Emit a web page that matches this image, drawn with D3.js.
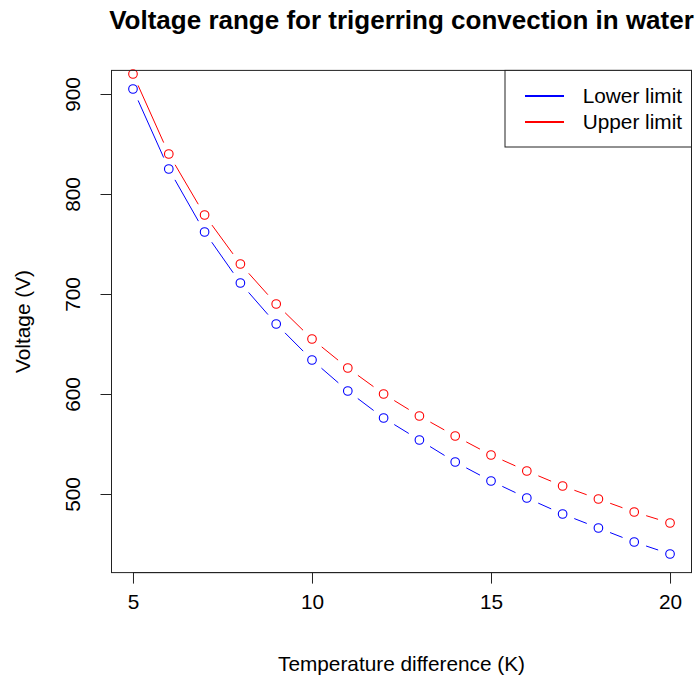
<!DOCTYPE html>
<html>
<head>
<meta charset="utf-8">
<script src="https://cdn.jsdelivr.net/npm/d3@7"></script>
<style>
  html, body { margin: 0; padding: 0; background: #fff; }
  svg { display: block; }
  text { font-family: "Liberation Sans", Arial, sans-serif; fill: #000; }
</style>
</head>
<body>
<svg id="chart" width="695" height="679"></svg>
<script>
const tempDiff = [5, 6, 7, 8, 9, 10, 11, 12, 13, 14, 15, 16, 17, 18, 19, 20];
const lowerLimit = [905, 825, 762, 711, 670, 634, 603, 576, 554, 532, 513, 496, 480, 466, 452, 440];
const upperLimit = [920, 840, 779, 730, 690, 655, 626, 600, 578, 558, 539, 523, 508, 495, 482, 471];
const xTicks = [5, 10, 15, 20];
const yTicks = [500, 600, 700, 800, 900];
const seriesNames = ["Lower limit", "Upper limit"];
const seriesColors = ["blue", "red"];
const titleText = "Voltage range for trigerring convection in water";
const xLabel = "Temperature difference (K)";
const yLabel = "Voltage (V)";

const svg = d3.select("#chart");
const plot = { left: 111.5, right: 691.5, top: 70.4, bottom: 572.6 };

// R-style 4% axis extension; y limits from lower series
const xr = d3.extent(tempDiff), xpad = (xr[1] - xr[0]) * 0.04;
const yr = d3.extent(lowerLimit), ypad = (yr[1] - yr[0]) * 0.04;
const x = d3.scaleLinear().domain([xr[0] - xpad, xr[1] + xpad]).range([plot.left, plot.right]);
const y = d3.scaleLinear().domain([yr[0] - ypad, yr[1] + ypad]).range([plot.bottom, plot.top]);

const fs = 20.8;

// clip
svg.append("defs").append("clipPath").attr("id", "clip")
  .append("rect").attr("x", plot.left).attr("y", plot.top)
  .attr("width", plot.right - plot.left).attr("height", plot.bottom - plot.top);

// series
const series = [lowerLimit, upperLimit];
const gap = 12.5;
series.forEach((vals, si) => {
  const pts = tempDiff.map((t, i) => [x(t), y(vals[i])]);
  const g = svg.append("g").attr("clip-path", "url(#clip)");
  for (let i = 0; i < pts.length - 1; i++) {
    const [x0, y0] = pts[i], [x1, y1] = pts[i + 1];
    const dx = x1 - x0, dy = y1 - y0, len = Math.hypot(dx, dy);
    if (len <= 2 * gap) continue;
    const ux = dx / len, uy = dy / len;
    g.append("line")
      .attr("x1", x0 + ux * gap).attr("y1", y0 + uy * gap)
      .attr("x2", x1 - ux * gap).attr("y2", y1 - uy * gap)
      .attr("stroke", seriesColors[si]).attr("stroke-width", 1);
  }
  svg.append("g").selectAll("circle").data(pts).join("circle")
    .attr("cx", d => d[0]).attr("cy", d => d[1]).attr("r", 4.3)
    .attr("fill", "none").attr("stroke", seriesColors[si]).attr("stroke-width", 1.1);
});

// box
svg.append("rect").attr("x", plot.left).attr("y", plot.top)
  .attr("width", plot.right - plot.left).attr("height", plot.bottom - plot.top)
  .attr("fill", "none").attr("stroke", "#222").attr("stroke-width", 1);

// x axis
const xAxis = d3.axisBottom(x).tickValues(xTicks).tickSize(11).tickPadding(11).tickFormat(d3.format("d"));
const gx = svg.append("g").attr("transform", `translate(0,${plot.bottom})`).call(xAxis);
gx.select(".domain").attr("d", `M${x(xTicks[0])},0H${x(xTicks[xTicks.length-1])}`).attr("stroke", "#222");
gx.selectAll(".tick line").attr("stroke", "#222");
gx.selectAll(".tick text").attr("font-size", fs).attr("font-family", "Liberation Sans, Arial, sans-serif").attr("fill", "#000");

// y axis
const yAxis = d3.axisLeft(y).tickValues(yTicks).tickSize(11).tickFormat(d3.format("d"));
const gy = svg.append("g").attr("transform", `translate(${plot.left},0)`).call(yAxis);
gy.select(".domain").attr("d", `M0,${y(yTicks[0])}V${y(yTicks[yTicks.length-1])}`).attr("stroke", "#222");
gy.selectAll(".tick line").attr("stroke", "#222");
gy.selectAll(".tick text")
  .attr("font-size", fs).attr("font-family", "Liberation Sans, Arial, sans-serif").attr("fill", "#000")
  .attr("x", null).attr("dy", null)
  .attr("text-anchor", "middle")
  .attr("transform", "translate(-32,0) rotate(-90)");

// title
svg.append("text").attr("x", (plot.left + plot.right) / 2).attr("y", 29)
  .attr("text-anchor", "middle").attr("font-weight", "bold").attr("font-size", 26)
  .text(titleText);

// axis labels
svg.append("text").attr("x", (plot.left + plot.right) / 2).attr("y", 671)
  .attr("text-anchor", "middle").attr("font-size", fs).text(xLabel);
svg.append("text")
  .attr("transform", `translate(30,${(plot.top + plot.bottom) / 2}) rotate(-90)`)
  .attr("text-anchor", "middle").attr("font-size", fs).text(yLabel);

// legend
const leg = { left: 505, top: plot.top, right: plot.right, bottom: 147 };
svg.append("rect").attr("x", leg.left).attr("y", leg.top)
  .attr("width", leg.right - leg.left).attr("height", leg.bottom - leg.top)
  .attr("fill", "#fff").attr("stroke", "#222").attr("stroke-width", 1);
const legY = d3.scalePoint().domain(seriesNames).range([96, 122]);
seriesNames.forEach((name, i) => {
  svg.append("line").attr("x1", 525).attr("x2", 564)
    .attr("y1", legY(name)).attr("y2", legY(name))
    .attr("stroke", seriesColors[i]).attr("stroke-width", 2);
  svg.append("text").attr("x", 582.7).attr("y", legY(name) + 7)
    .attr("font-size", fs).text(name);
});
</script>
</body>
</html>
